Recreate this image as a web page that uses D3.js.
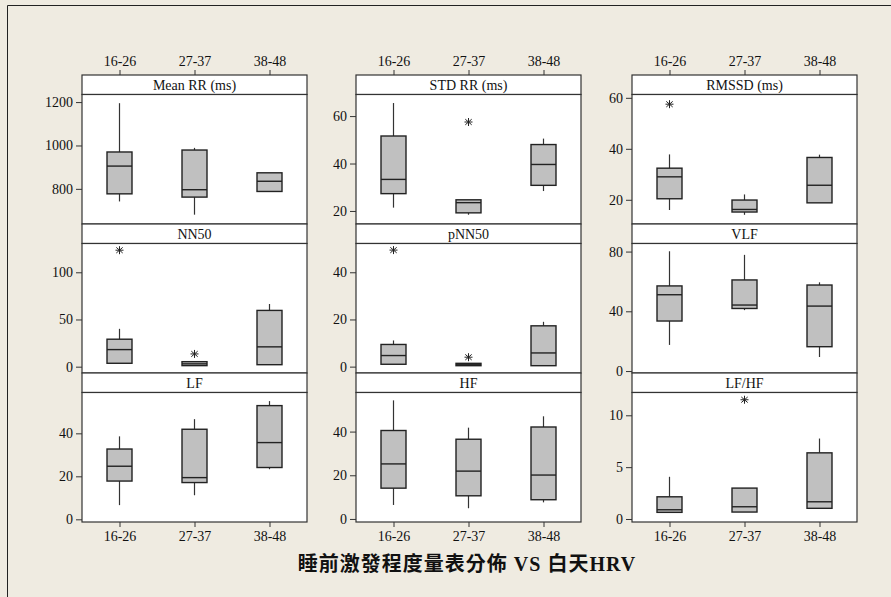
<!DOCTYPE html>
<html>
<head>
<meta charset="utf-8">
<script src="https://cdn.jsdelivr.net/npm/d3@7"></script>
<style>
  html, body { margin: 0; padding: 0; background: #EFEBE1; }
  svg { display: block; }
  text { font-family: "Liberation Serif", "DejaVu Serif", serif; fill: #111; }
</style>
</head>
<body>
<svg id="chart" width="891" height="597"></svg>
<script>
// ---- data ----
const groups = ["16-26", "27-37", "38-48"];
const panelTitles = ["Mean RR  (ms)", "STD RR (ms)", "RMSSD (ms)", "NN50", "pNN50", "VLF", "LF", "HF", "LF/HF"];

// each entry: [whisker low, Q1, median, Q3, whisker high] per group
const meanRR = [[742, 777, 905, 970, 1195], [681, 762, 796, 979, 989], [788, 788, 835, 874, 874]];
const stdRR  = [[21.4, 27.3, 33.3, 51.6, 65.5], [18.4, 19.2, 23.5, 24.7, 24.7], [28.4, 30.8, 39.6, 48.0, 50.5]];
const rmssd  = [[16.0, 20.4, 29.0, 32.4, 37.8], [14.1, 15.2, 16.2, 19.9, 22.1], [18.8, 18.8, 25.7, 36.6, 37.7]];
const nn50   = [[3.6, 3.6, 18.1, 29.1, 40.1], [1.1, 1.1, 3.0, 5.3, 5.3], [2.1, 2.1, 21.0, 59.6, 66.4]];
const pnn50  = [[1.0, 1.0, 4.7, 9.4, 11.1], [0.4, 0.4, 0.8, 1.4, 1.4], [0.4, 0.4, 5.8, 17.3, 19.0]];
const vlf    = [[17.5, 33.5, 51.1, 57.0, 80.2], [40.8, 41.9, 44.2, 61.0, 77.8], [9.4, 16.3, 43.5, 57.6, 59.4]];
const lf     = [[6.6, 17.8, 24.7, 32.7, 38.6], [11.2, 17.1, 19.4, 41.9, 46.6], [23.3, 24.1, 35.7, 52.9, 55.0]];
const hf     = [[6.4, 14.1, 25.2, 40.5, 54.3], [4.9, 10.6, 21.9, 36.5, 41.8], [7.6, 8.8, 20.1, 42.1, 47.0]];
const lfhf   = [[0.64, 0.64, 0.89, 2.14, 4.07], [0.67, 0.67, 1.18, 2.98, 2.98], [1.03, 1.03, 1.66, 6.38, 7.76]];

// outliers: [group index, value]
const stdRROutliers  = [[1, 57.5]];
const rmssdOutliers  = [[0, 57.5]];
const nn50Outliers   = [[0, 123.4], [1, 13.5]];
const pnn50Outliers  = [[0, 49.4], [1, 4.0]];
const lfhfOutliers   = [[1, 11.5]];

// axis ranges and tick values
const yDomains = [[638, 1235], [14.5, 69.1], [10.5, 61.3], [-6.7, 130.5], [-2.7, 52.2], [-1.3, 85.4], [-1.25, 59.0], [-1.4, 57.9], [-0.29, 12.2]];
const yTicks = [[800, 1000, 1200], [20, 40, 60], [20, 40, 60], [0, 50, 100], [0, 20, 40], [0, 40, 80], [0, 20, 40], [0, 20, 40], [0, 5, 10]];

const panelStats = [meanRR, stdRR, rmssd, nn50, pnn50, vlf, lf, hf, lfhf];
const panelOutliers = [[], stdRROutliers, rmssdOutliers, nn50Outliers, pnn50Outliers, [], [], [], lfhfOutliers];

const title = "睡前激發程度量表分佈 VS 白天HRV";

// ---- layout ----
const svg = d3.select("#chart");
const colX = [82, 356, 632];
const panelW = 225;
const rowTop = [75, 224, 373];
const stripH = 19.5;
const rowH = 149;
const lineColor = "#333";

svg.append("rect").attr("x", 0).attr("y", 0).attr("width", 891).attr("height", 597).attr("fill", "#EFEBE1");
svg.append("path").attr("d", "M7.5,600V5.5H900").attr("fill", "none").attr("stroke", "#222").attr("stroke-width", 1);

const x = d3.scalePoint().domain(groups).range([0, panelW]).padding(0.5);
const boxW = 25;

panelStats.forEach((stats, i) => {
  const col = i % 3, row = Math.floor(i / 3);
  const gx = colX[col], top = rowTop[row];
  const plotTop = top + stripH, plotBot = top + rowH;
  const g = svg.append("g").attr("transform", `translate(${gx},0)`);

  // strip
  g.append("rect").attr("x", 0).attr("y", top).attr("width", panelW).attr("height", stripH)
    .attr("fill", "#fff").attr("stroke", lineColor).attr("stroke-width", 1.2);
  g.append("text").attr("x", panelW / 2).attr("y", top + stripH / 2 + 5)
    .attr("text-anchor", "middle").attr("font-size", 14).text(panelTitles[i]);

  // plot area
  g.append("rect").attr("x", 0).attr("y", plotTop).attr("width", panelW).attr("height", plotBot - plotTop)
    .attr("fill", "#fff").attr("stroke", lineColor).attr("stroke-width", 1.2);

  const y = d3.scaleLinear().domain(yDomains[i]).range([plotBot, plotTop]);

  // y axis
  const ya = g.append("g").call(d3.axisLeft(y).tickValues(yTicks[i]).tickSize(6).tickPadding(3).tickFormat(d3.format("d")));
  ya.select(".domain").remove();
  ya.selectAll("line").attr("stroke", lineColor);
  ya.selectAll("text").attr("font-size", 14).attr("font-family", "Liberation Serif").attr("fill", "#111");

  // x axes: top on first row, bottom on last row
  if (row === 0) {
    const xa = g.append("g").attr("transform", `translate(0,${top})`)
      .call(d3.axisTop(x).tickSize(5).tickPadding(4));
    xa.select(".domain").remove();
    xa.selectAll("line").attr("stroke", lineColor);
    xa.selectAll("text").attr("font-size", 14).attr("font-family", "Liberation Serif").attr("fill", "#111");
  }
  if (row === 2) {
    const xa = g.append("g").attr("transform", `translate(0,${plotBot})`)
      .call(d3.axisBottom(x).tickSize(5).tickPadding(4));
    xa.select(".domain").remove();
    xa.selectAll("line").attr("stroke", lineColor);
    xa.selectAll("text").attr("font-size", 14).attr("font-family", "Liberation Serif").attr("fill", "#111");
  }

  // boxes
  stats.forEach((s, j) => {
    const cx = x(groups[j]);
    const [lo, q1, med, q3, hi] = s;
    g.append("line").attr("x1", cx).attr("x2", cx).attr("y1", y(hi)).attr("y2", y(q3))
      .attr("stroke", lineColor).attr("stroke-width", 1.2);
    g.append("line").attr("x1", cx).attr("x2", cx).attr("y1", y(q1)).attr("y2", y(lo))
      .attr("stroke", lineColor).attr("stroke-width", 1.2);
    g.append("rect").attr("x", cx - boxW / 2).attr("y", y(q3)).attr("width", boxW)
      .attr("height", Math.max(1, y(q1) - y(q3)))
      .attr("fill", "#C0C0C0").attr("stroke", "#222").attr("stroke-width", 1.4);
    g.append("line").attr("x1", cx - boxW / 2).attr("x2", cx + boxW / 2).attr("y1", y(med)).attr("y2", y(med))
      .attr("stroke", "#222").attr("stroke-width", 1.4);
  });

  // outliers (asterisks)
  panelOutliers[i].forEach(([j, v]) => {
    const cx = x(groups[j]), cy = y(v), r = 4;
    const d = `M${cx},${cy - r}V${cy + r}M${cx - r},${cy}H${cx + r}` +
      `M${cx - r * 0.8},${cy - r * 0.7}L${cx + r * 0.8},${cy + r * 0.7}` +
      `M${cx - r * 0.8},${cy + r * 0.7}L${cx + r * 0.8},${cy - r * 0.7}`;
    g.append("path").attr("d", d).attr("stroke", "#222").attr("stroke-width", 1).attr("fill", "none");
  });
});

// title
svg.append("text").attr("x", 467).attr("y", 571).attr("text-anchor", "middle")
  .attr("font-size", 20).attr("font-weight", "bold").attr("letter-spacing", 1)
  .style("font-family", "'Liberation Serif', 'Noto Sans CJK TC', serif")
  .text(title);
</script>
</body>
</html>
